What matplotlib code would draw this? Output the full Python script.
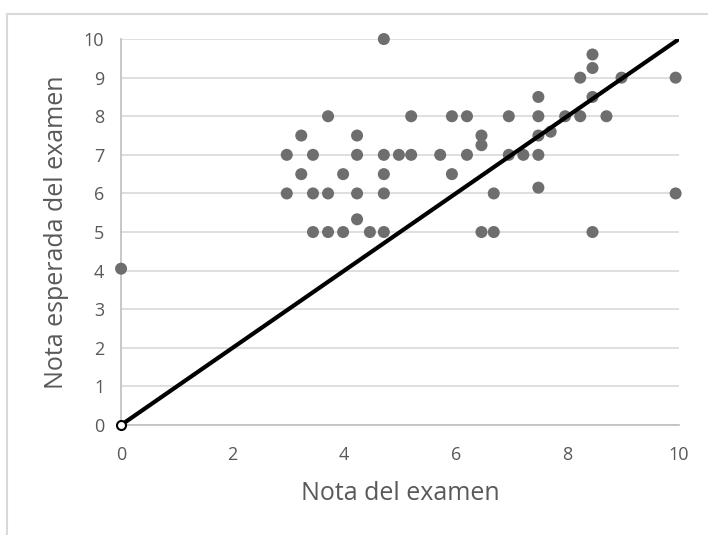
import matplotlib
matplotlib.use("Agg")
import matplotlib.pyplot as plt
from matplotlib.patches import Rectangle

# Nota del examen (x) vs nota esperada (y)
nota_examen = [
    0.0,
    2.97, 2.97, 3.23, 3.23, 3.44, 3.44, 3.44,
    3.71, 3.71, 3.71, 3.98, 3.98,
    4.23, 4.23, 4.23, 4.23, 4.46,
    4.71, 4.71, 4.71, 4.71, 4.71, 4.98,
    5.2, 5.2, 5.72, 5.93, 5.93, 6.2, 6.2,
    6.46, 6.46, 6.46, 6.68, 6.68, 6.95, 6.95, 7.21,
    7.48, 7.48, 7.48, 7.48, 7.48, 7.7, 7.96,
    8.23, 8.23, 8.45, 8.45, 8.45, 8.45, 8.7, 8.97,
    9.94, 9.94,
]
nota_esperada = [
    4.05,
    7.0, 6.0, 7.5, 6.5, 7.0, 6.0, 5.0,
    8.0, 6.0, 5.0, 6.5, 5.0,
    7.5, 7.0, 6.0, 5.33, 5.0,
    10.0, 7.0, 6.5, 6.0, 5.0, 7.0,
    8.0, 7.0, 7.0, 8.0, 6.5, 8.0, 7.0,
    7.5, 7.25, 5.0, 6.0, 5.0, 8.0, 7.0, 7.0,
    8.5, 8.0, 7.5, 7.0, 6.15, 7.6, 8.0,
    9.0, 8.0, 9.6, 9.25, 8.5, 5.0, 8.0, 9.0,
    9.0, 6.0,
]
# reference line y = x
linea_x = [0, 10]
linea_y = [0, 10]

x_ticks = [0, 2, 4, 6, 8, 10]
y_ticks = list(range(0, 11))

plt.rcParams['font.family'] = ['Open Sans', 'DejaVu Sans']

fig = plt.figure(figsize=(7.08, 5.35), dpi=100)
ax = fig.add_axes([0.171, 0.2056, 0.788, 0.7214])

# outer chart frame (runs off the right and bottom edges)
fig.patches.append(Rectangle((6.5 / 708, -0.1), 1.2, 1.1 - 14 / 535,
                             transform=fig.transFigure, fill=False,
                             edgecolor='#d9d9d9', linewidth=1.5))

ax.scatter(nota_examen, nota_esperada, s=75, color='#6e6e6e',
           edgecolors='none', zorder=3, clip_on=False)
ax.plot(linea_x, linea_y, color='black', linewidth=3.0, zorder=4,
        solid_capstyle='butt')
ax.plot([linea_x[0]], [linea_y[0]], marker='o', markersize=6.5,
        markerfacecolor='white', markeredgecolor='black',
        markeredgewidth=1.5, linestyle='none', zorder=5, clip_on=False)

ax.set_xlim(0, 10)
ax.set_ylim(0, 10)
ax.set_xticks(x_ticks)
ax.set_yticks(y_ticks)
ax.yaxis.grid(True, color='#d9d9d9', linewidth=1.2)
ax.set_axisbelow(True)

for side in ['top', 'right']:
    ax.spines[side].set_visible(False)
for side in ['left', 'bottom']:
    ax.spines[side].set_color('#bfbfbf')
    ax.spines[side].set_linewidth(1.2)

ax.tick_params(axis='both', length=0, labelsize=13, labelcolor='#595959')
ax.tick_params(axis='x', pad=15)
ax.tick_params(axis='y', pad=12)

ax.set_xlabel('Nota del examen', fontsize=18, color='#595959', labelpad=12)
ax.set_ylabel('Nota esperada del examen', fontsize=18, color='#595959',
              labelpad=11)

fig.savefig('out.png', dpi=100)
